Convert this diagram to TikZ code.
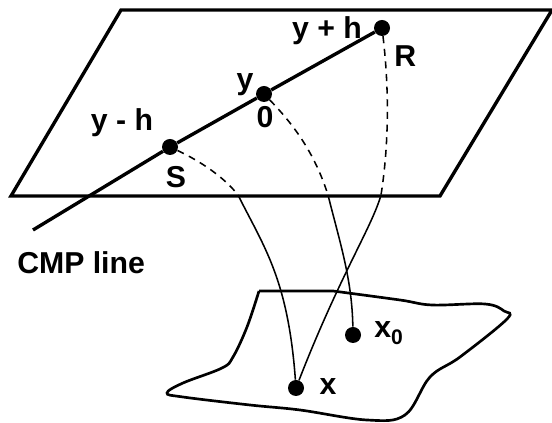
\documentclass[tikz,border=0pt]{standalone}
\usepackage{amsmath}
\usepackage{fontspec}
\setmainfont{Liberation Sans}
\tikzset{
  pointdot/.style={circle,fill=black,inner sep=0pt,minimum size=.4cm},
  planeline/.style={line width=2.4pt},
  raydash/.style={line width=1.1pt,dashed,dash pattern=on 5pt off 4pt},
  raysolid/.style={line width=1.1pt},
  lbl/.style={inner sep=0pt,font=\fontsize{21.5}{25}\selectfont\bfseries}
}
\begin{document}
\begin{tikzpicture}[x=1cm,y=1cm,line join=miter]
\useasboundingbox (0,0) rectangle (13.8,10.575);
% acquisition plane
\draw[planeline] (3.025,10.325)--(13.8,10.325)--(11,5.675)--(.275,5.675)--cycle;
% reflector surface
\draw[line width=1.9pt] (6.475,3.3)--(8.325,3.3) plot[smooth,tension=.6] coordinates {(8.325,3.3) (10,3.075) (10.8,2.95) (12.125,2.975) (12.6,2.8) (12.675,2.6) (11.5,1.65) (10.75,1.15) (10.125,.2) (9.175,.075) (7.5,.325) (6.25,.45) (4.575,.65) (4.175,.75) (4.575,1) (5.55,1.375) (5.825,1.65) (6.175,2.4) (6.475,3.3)};
\node[pointdot] (S) at (4.25,6.9) {};
\node[pointdot] (O) at (6.6,8.225) {};
\node[pointdot] (R) at (9.55,9.875) {};
\node[pointdot] (X) at (7.4,.875) {};
\node[pointdot] (Xz) at (8.825,2.2) {};
\coordinate (E) at (.825,4.825);
\coordinate (Sc) at (5.95,5.7);
\coordinate (Oc) at (8.2,5.7);
\coordinate (Rc) at (9.525,5.7);
% CMP line
\draw[planeline] (E)--(S)--(O)--(R);
% rays
\draw[raydash] (S)..controls (5,6.55) and (5.6,6.15)..(Sc);
\draw[raydash] (O)..controls (7.3,7.5) and (7.85,6.8)..(Oc);
\draw[raydash] (R)..controls (9.75,8.2) and (9.7,6.8)..(Rc);
\draw[raysolid] (Sc)..controls (6.6,4.4) and (7.2,3.6)..(X);
\draw[raysolid] (Oc)..controls (8.5,4.5) and (8.8,3.6)..(Xz);
\draw[raysolid] (Rc)..controls (9.3,4.9) and (8.5,3.7)..(X);
% labels
\node[lbl] (lRy) at (8.175,9.8) {y + h};
\node[lbl] (lOy) at (6.125,8.45) {y};
\node[lbl] (lSy) at (3.05,7.5) {y - h};
\node[lbl] (lO) at (6.625,7.65) {0};
\node[lbl] (lS) at (4.4,6.15) {S};
\node[lbl] (lR) at (10.13,9.17) {R};
\node[lbl,anchor=west] (lCMP) at (.425,4.0) {CMP line};
\node[lbl] (lX) at (8.2,.9) {x};
\node[lbl,anchor=west] (lXz) at (9.35,2.25) {x\raisebox{-5.5pt}{\fontsize{15}{15}\selectfont 0}};
\end{tikzpicture}
\end{document}
